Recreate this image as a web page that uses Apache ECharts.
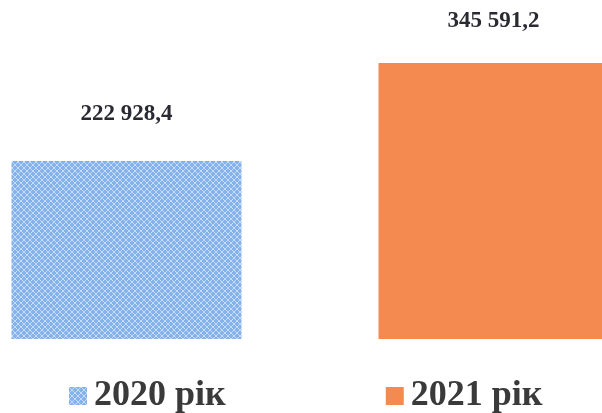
<!DOCTYPE html>
<html><head><meta charset="utf-8">
<script src="https://cdn.jsdelivr.net/npm/echarts@6/dist/echarts.min.js"></script>
<style>html,body{margin:0;padding:0;background:#fff}#c{width:602px;height:413px}</style>
</head><body><div id="c"></div>
<script>
const categories = ['2020 рік', '2021 рік'];
const values = [222928.4, 345591.2];
const labels = ['222 928,4', '345 591,2'];

function makePattern() {
  const s = 6;
  const cv = document.createElement('canvas');
  cv.width = s; cv.height = s;
  const g = cv.getContext('2d');
  g.fillStyle = '#86b2ec';
  g.fillRect(0, 0, s, s);
  g.strokeStyle = '#c4dcf8';
  g.lineWidth = 1;
  g.beginPath();
  g.moveTo(0, 0); g.lineTo(s, s);
  g.moveTo(s, 0); g.lineTo(0, s);
  g.stroke();
  return cv;
}
const styles = {
  colors: [{ image: makePattern(), repeat: 'repeat' }, '#f58a50'],
  labelDistance: [35, 30]
};

const chart = echarts.init(document.getElementById('c'));
const series = categories.map((name, i) => ({
  name: name,
  type: 'bar',
  barWidth: 230,
  barGap: '-100%',
  itemStyle: { color: styles.colors[i] },
  label: {
    show: true, position: 'top', distance: styles.labelDistance[i],
    formatter: () => labels[i],
    fontFamily: 'Liberation Serif', fontWeight: 'bold', fontSize: 23, color: '#2a2a33'
  },
  data: categories.map((c, j) => j === i ? values[i] : '-')
}));
chart.setOption({
  animation: false,
  grid: { left: -57, right: -75, top: 63, bottom: 74, containLabel: false, outerBoundsMode: 'none' },
  xAxis: { type: 'category', data: categories, show: false },
  yAxis: { type: 'value', min: 0, max: 'dataMax', show: false },
  legend: {
    data: categories, bottom: -6, left: 64, itemGap: 160,
    itemWidth: 18, itemHeight: 18, icon: 'rect',
    textStyle: { fontFamily: 'Liberation Serif', fontWeight: 'bold', fontSize: 36, color: '#3a3a3a', padding: [0, 0, 0, 2] }
  },
  series: series
});
</script></body></html>
